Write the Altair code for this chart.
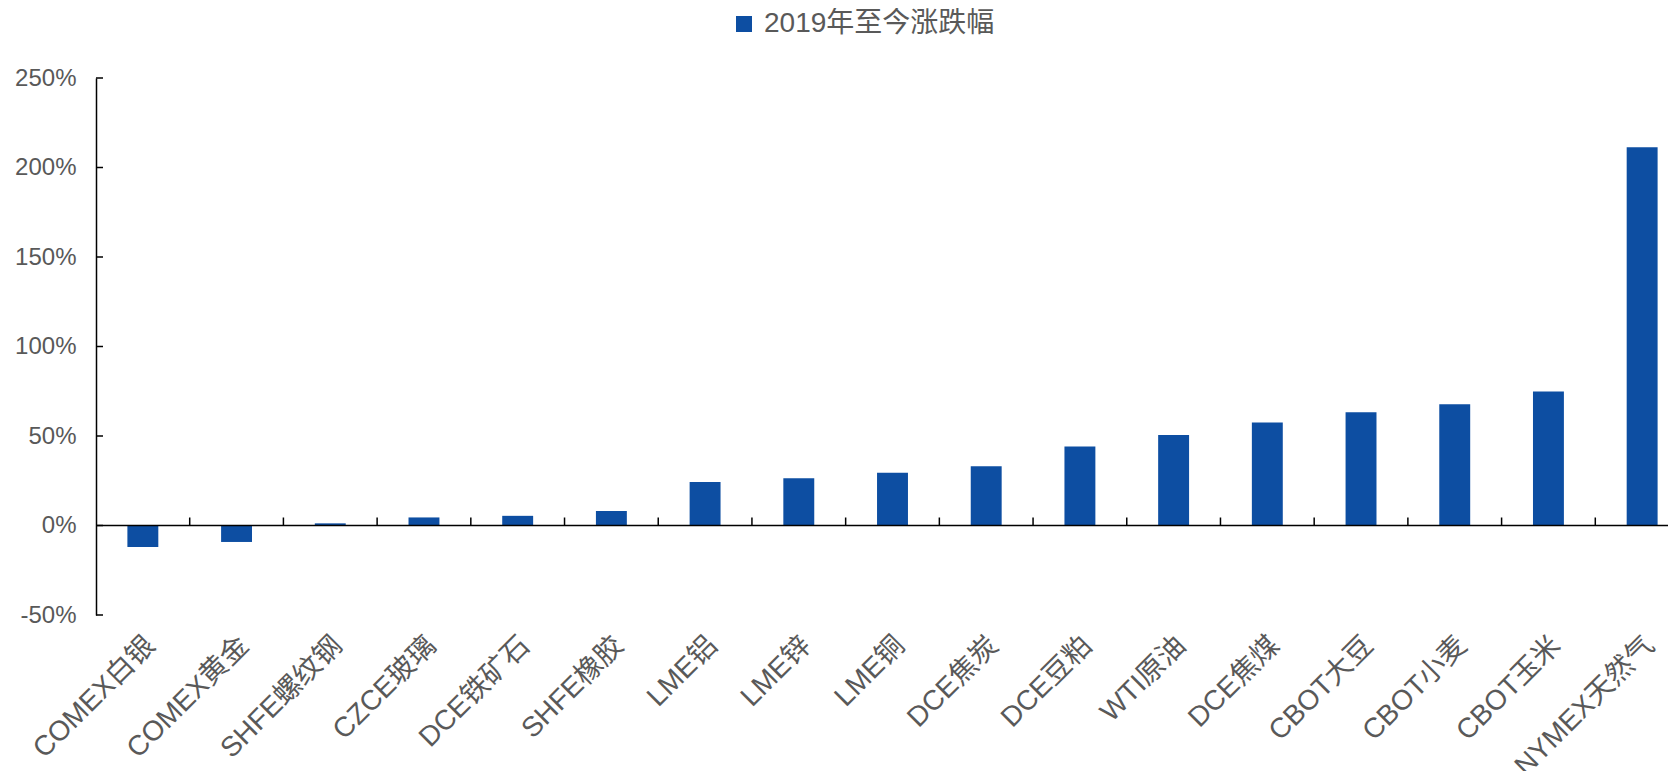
import altair as alt
import pandas as pd

categories = ["COMEX白银", "COMEX黄金", "SHFE螺纹钢", "CZCE玻璃", "DCE铁矿石", "SHFE橡胶",
              "LME铝", "LME锌", "LME铜", "DCE焦炭", "DCE豆粕", "WTI原油", "DCE焦煤",
              "CBOT大豆", "CBOT小麦", "CBOT玉米", "NYMEX天然气"]
values = [-0.120, -0.092, 0.012, 0.045, 0.054, 0.081,
          0.243, 0.264, 0.294, 0.331, 0.441, 0.506, 0.576,
          0.632, 0.677, 0.749, 2.113]
series_name = "2019年至今涨跌幅"
y_ticks = [-0.5, 0.0, 0.5, 1.0, 1.5, 2.0, 2.5]

df = pd.DataFrame({"cat": categories, "val": values, "series": series_name})
df_bounds = pd.DataFrame({"cat": categories[1:]})
df_zero = pd.DataFrame({"z": [0.0]})
df_yt = pd.DataFrame({"t": y_ticks})

FONT = "Liberation Sans, Arial, Noto Sans CJK SC"
BLUE = "#0D4EA2"
GRAY = "#595959"

x_scale = alt.Scale(range=[0, 1593], paddingInner=0, paddingOuter=0)
y_scale = alt.Scale(domain=[-0.5, 2.5], nice=False, zero=False)

bars = alt.Chart(df).mark_bar(width=alt.RelativeBandSize(0.33)).encode(
    x=alt.X("cat:N", sort=categories, scale=x_scale, title=None,
            axis=alt.Axis(orient="bottom", domain=False, ticks=False, tickSize=0,
                          labelAngle=-45, labelAlign="right", labelBaseline="middle",
                          labelFontSize=28, labelColor=GRAY, labelFont=FONT,
                          labelPadding=26, labelOffset=8, labelOverlap=False,
                          labelLimit=400)),
    y=alt.Y("val:Q", scale=y_scale, title=None,
            axis=alt.Axis(values=y_ticks, format=".0%",
                          labelExpr="replace(datum.label, '\u2212', '-')",
                          domain=True, domainColor="#000000",
                          domainWidth=1.5, ticks=False, tickSize=0, grid=False,
                          labelFontSize=24, labelColor=GRAY, labelFont=FONT,
                          labelPadding=20)),
    color=alt.Color("series:N", scale=alt.Scale(range=[BLUE]),
                    legend=alt.Legend(title=None, orient="none", legendX=634, legendY=-68,
                                      symbolType="square", symbolSize=256,
                                      symbolStrokeWidth=0, labelFontSize=28,
                                      labelColor=GRAY, labelFont=FONT, padding=0,
                                      labelOffset=6, labelLimit=400)),
)

zero_line = alt.Chart(df_zero).mark_rule(color="#000000", strokeWidth=1.5).encode(
    y=alt.Y("z:Q", scale=y_scale),
    x=alt.value(0),
    x2=alt.value(1600),
)

x_ticks = alt.Chart(df_bounds).mark_rule(color="#000000", strokeWidth=1.5, y2Offset=-8).encode(
    x=alt.X("cat:N", sort=categories, scale=x_scale, bandPosition=0),
    y=alt.datum(0.0),
    y2=alt.datum(0.0),
)

y_tick_marks = alt.Chart(df_yt).mark_rule(color="#000000", strokeWidth=1.5).encode(
    y=alt.Y("t:Q", scale=y_scale),
    x=alt.value(0),
    x2=alt.value(7),
)

chart = alt.layer(bars, zero_line, x_ticks, y_tick_marks).properties(
    width=1572,
    height=537,
    padding={"left": 88, "top": 70, "right": 0, "bottom": 156},
    autosize=alt.AutoSizeParams(type="none"),
    background="white",
).configure_view(stroke=None)

chart.save("out.html", embed_options={"renderer": "svg", "actions": False})
